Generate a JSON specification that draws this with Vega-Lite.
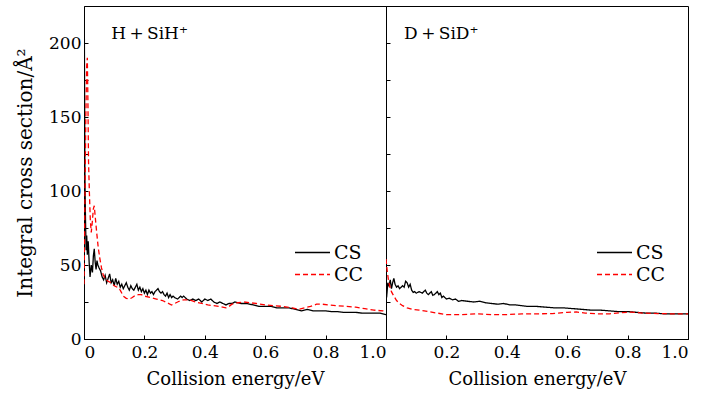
{
  "$schema": "https://vega.github.io/schema/vega-lite/v6.json",
  "padding": {"left": 15, "top": 5, "right": 5, "bottom": 5},
  "background": "white",
  "bounds": "flush",
  "datasets": {
    "curves": [
      {"panel": "H", "type": "CS", "E": 0.001, "s": 217},
      {"panel": "H", "type": "CS", "E": 0.003, "s": 110},
      {"panel": "H", "type": "CS", "E": 0.005, "s": 80},
      {"panel": "H", "type": "CS", "E": 0.007, "s": 60},
      {"panel": "H", "type": "CS", "E": 0.009, "s": 70},
      {"panel": "H", "type": "CS", "E": 0.011, "s": 57},
      {"panel": "H", "type": "CS", "E": 0.014, "s": 66},
      {"panel": "H", "type": "CS", "E": 0.017, "s": 52},
      {"panel": "H", "type": "CS", "E": 0.020, "s": 42},
      {"panel": "H", "type": "CS", "E": 0.024, "s": 50},
      {"panel": "H", "type": "CS", "E": 0.028, "s": 45},
      {"panel": "H", "type": "CS", "E": 0.031, "s": 56},
      {"panel": "H", "type": "CS", "E": 0.034, "s": 61},
      {"panel": "H", "type": "CS", "E": 0.037, "s": 52},
      {"panel": "H", "type": "CS", "E": 0.040, "s": 47},
      {"panel": "H", "type": "CS", "E": 0.043, "s": 53},
      {"panel": "H", "type": "CS", "E": 0.046, "s": 50},
      {"panel": "H", "type": "CS", "E": 0.050, "s": 48},
      {"panel": "H", "type": "CS", "E": 0.055, "s": 46},
      {"panel": "H", "type": "CS", "E": 0.060, "s": 42},
      {"panel": "H", "type": "CS", "E": 0.065, "s": 40},
      {"panel": "H", "type": "CS", "E": 0.070, "s": 43},
      {"panel": "H", "type": "CS", "E": 0.075, "s": 38},
      {"panel": "H", "type": "CS", "E": 0.080, "s": 41},
      {"panel": "H", "type": "CS", "E": 0.085, "s": 44},
      {"panel": "H", "type": "CS", "E": 0.090, "s": 38},
      {"panel": "H", "type": "CS", "E": 0.095, "s": 40},
      {"panel": "H", "type": "CS", "E": 0.100, "s": 36},
      {"panel": "H", "type": "CS", "E": 0.105, "s": 41},
      {"panel": "H", "type": "CS", "E": 0.110, "s": 37},
      {"panel": "H", "type": "CS", "E": 0.115, "s": 39},
      {"panel": "H", "type": "CS", "E": 0.120, "s": 35},
      {"panel": "H", "type": "CS", "E": 0.125, "s": 37},
      {"panel": "H", "type": "CS", "E": 0.130, "s": 34},
      {"panel": "H", "type": "CS", "E": 0.135, "s": 36},
      {"panel": "H", "type": "CS", "E": 0.140, "s": 38},
      {"panel": "H", "type": "CS", "E": 0.145, "s": 35},
      {"panel": "H", "type": "CS", "E": 0.150, "s": 33},
      {"panel": "H", "type": "CS", "E": 0.155, "s": 36},
      {"panel": "H", "type": "CS", "E": 0.160, "s": 34},
      {"panel": "H", "type": "CS", "E": 0.165, "s": 33},
      {"panel": "H", "type": "CS", "E": 0.170, "s": 35},
      {"panel": "H", "type": "CS", "E": 0.175, "s": 37},
      {"panel": "H", "type": "CS", "E": 0.180, "s": 33},
      {"panel": "H", "type": "CS", "E": 0.185, "s": 35},
      {"panel": "H", "type": "CS", "E": 0.190, "s": 32},
      {"panel": "H", "type": "CS", "E": 0.195, "s": 34},
      {"panel": "H", "type": "CS", "E": 0.200, "s": 31},
      {"panel": "H", "type": "CS", "E": 0.205, "s": 33},
      {"panel": "H", "type": "CS", "E": 0.210, "s": 30},
      {"panel": "H", "type": "CS", "E": 0.215, "s": 33},
      {"panel": "H", "type": "CS", "E": 0.220, "s": 31},
      {"panel": "H", "type": "CS", "E": 0.225, "s": 32},
      {"panel": "H", "type": "CS", "E": 0.230, "s": 30},
      {"panel": "H", "type": "CS", "E": 0.235, "s": 32},
      {"panel": "H", "type": "CS", "E": 0.240, "s": 33},
      {"panel": "H", "type": "CS", "E": 0.245, "s": 34},
      {"panel": "H", "type": "CS", "E": 0.250, "s": 32},
      {"panel": "H", "type": "CS", "E": 0.255, "s": 31},
      {"panel": "H", "type": "CS", "E": 0.260, "s": 32},
      {"panel": "H", "type": "CS", "E": 0.265, "s": 30},
      {"panel": "H", "type": "CS", "E": 0.270, "s": 29},
      {"panel": "H", "type": "CS", "E": 0.275, "s": 31},
      {"panel": "H", "type": "CS", "E": 0.280, "s": 28},
      {"panel": "H", "type": "CS", "E": 0.285, "s": 30},
      {"panel": "H", "type": "CS", "E": 0.290, "s": 28},
      {"panel": "H", "type": "CS", "E": 0.295, "s": 29},
      {"panel": "H", "type": "CS", "E": 0.300, "s": 28},
      {"panel": "H", "type": "CS", "E": 0.310, "s": 27},
      {"panel": "H", "type": "CS", "E": 0.320, "s": 29},
      {"panel": "H", "type": "CS", "E": 0.325, "s": 28},
      {"panel": "H", "type": "CS", "E": 0.330, "s": 29},
      {"panel": "H", "type": "CS", "E": 0.340, "s": 27},
      {"panel": "H", "type": "CS", "E": 0.350, "s": 26},
      {"panel": "H", "type": "CS", "E": 0.360, "s": 27},
      {"panel": "H", "type": "CS", "E": 0.370, "s": 26},
      {"panel": "H", "type": "CS", "E": 0.380, "s": 27},
      {"panel": "H", "type": "CS", "E": 0.390, "s": 25},
      {"panel": "H", "type": "CS", "E": 0.400, "s": 27},
      {"panel": "H", "type": "CS", "E": 0.410, "s": 26},
      {"panel": "H", "type": "CS", "E": 0.420, "s": 27},
      {"panel": "H", "type": "CS", "E": 0.430, "s": 25},
      {"panel": "H", "type": "CS", "E": 0.440, "s": 24},
      {"panel": "H", "type": "CS", "E": 0.450, "s": 25},
      {"panel": "H", "type": "CS", "E": 0.460, "s": 24},
      {"panel": "H", "type": "CS", "E": 0.470, "s": 23},
      {"panel": "H", "type": "CS", "E": 0.480, "s": 24},
      {"panel": "H", "type": "CS", "E": 0.490, "s": 24},
      {"panel": "H", "type": "CS", "E": 0.500, "s": 25},
      {"panel": "H", "type": "CS", "E": 0.520, "s": 24},
      {"panel": "H", "type": "CS", "E": 0.540, "s": 24},
      {"panel": "H", "type": "CS", "E": 0.560, "s": 23},
      {"panel": "H", "type": "CS", "E": 0.580, "s": 22},
      {"panel": "H", "type": "CS", "E": 0.600, "s": 22},
      {"panel": "H", "type": "CS", "E": 0.620, "s": 22},
      {"panel": "H", "type": "CS", "E": 0.640, "s": 21},
      {"panel": "H", "type": "CS", "E": 0.660, "s": 21},
      {"panel": "H", "type": "CS", "E": 0.680, "s": 21},
      {"panel": "H", "type": "CS", "E": 0.700, "s": 20},
      {"panel": "H", "type": "CS", "E": 0.720, "s": 19},
      {"panel": "H", "type": "CS", "E": 0.740, "s": 20},
      {"panel": "H", "type": "CS", "E": 0.760, "s": 19},
      {"panel": "H", "type": "CS", "E": 0.780, "s": 19},
      {"panel": "H", "type": "CS", "E": 0.800, "s": 19},
      {"panel": "H", "type": "CS", "E": 0.820, "s": 18.5},
      {"panel": "H", "type": "CS", "E": 0.840, "s": 18.5},
      {"panel": "H", "type": "CS", "E": 0.860, "s": 18},
      {"panel": "H", "type": "CS", "E": 0.880, "s": 18},
      {"panel": "H", "type": "CS", "E": 0.900, "s": 18},
      {"panel": "H", "type": "CS", "E": 0.920, "s": 17.5},
      {"panel": "H", "type": "CS", "E": 0.940, "s": 17.5},
      {"panel": "H", "type": "CS", "E": 0.960, "s": 17.5},
      {"panel": "H", "type": "CS", "E": 0.980, "s": 17.5},
      {"panel": "H", "type": "CS", "E": 1.000, "s": 16.5},

      {"panel": "H", "type": "CC", "E": 0.000, "s": 37},
      {"panel": "H", "type": "CC", "E": 0.003, "s": 90},
      {"panel": "H", "type": "CC", "E": 0.006, "s": 150},
      {"panel": "H", "type": "CC", "E": 0.009, "s": 185},
      {"panel": "H", "type": "CC", "E": 0.011, "s": 190},
      {"panel": "H", "type": "CC", "E": 0.013, "s": 160},
      {"panel": "H", "type": "CC", "E": 0.015, "s": 120},
      {"panel": "H", "type": "CC", "E": 0.018, "s": 98},
      {"panel": "H", "type": "CC", "E": 0.021, "s": 80},
      {"panel": "H", "type": "CC", "E": 0.024, "s": 72},
      {"panel": "H", "type": "CC", "E": 0.027, "s": 78},
      {"panel": "H", "type": "CC", "E": 0.031, "s": 88},
      {"panel": "H", "type": "CC", "E": 0.034, "s": 90},
      {"panel": "H", "type": "CC", "E": 0.037, "s": 83},
      {"panel": "H", "type": "CC", "E": 0.042, "s": 72},
      {"panel": "H", "type": "CC", "E": 0.047, "s": 62},
      {"panel": "H", "type": "CC", "E": 0.052, "s": 55},
      {"panel": "H", "type": "CC", "E": 0.058, "s": 48},
      {"panel": "H", "type": "CC", "E": 0.064, "s": 43},
      {"panel": "H", "type": "CC", "E": 0.072, "s": 40.5},
      {"panel": "H", "type": "CC", "E": 0.080, "s": 39},
      {"panel": "H", "type": "CC", "E": 0.090, "s": 38},
      {"panel": "H", "type": "CC", "E": 0.100, "s": 36},
      {"panel": "H", "type": "CC", "E": 0.110, "s": 35},
      {"panel": "H", "type": "CC", "E": 0.120, "s": 33},
      {"panel": "H", "type": "CC", "E": 0.130, "s": 29},
      {"panel": "H", "type": "CC", "E": 0.140, "s": 27.5},
      {"panel": "H", "type": "CC", "E": 0.150, "s": 27},
      {"panel": "H", "type": "CC", "E": 0.160, "s": 28},
      {"panel": "H", "type": "CC", "E": 0.170, "s": 29.5},
      {"panel": "H", "type": "CC", "E": 0.180, "s": 30},
      {"panel": "H", "type": "CC", "E": 0.190, "s": 30},
      {"panel": "H", "type": "CC", "E": 0.200, "s": 29},
      {"panel": "H", "type": "CC", "E": 0.220, "s": 28},
      {"panel": "H", "type": "CC", "E": 0.240, "s": 27},
      {"panel": "H", "type": "CC", "E": 0.260, "s": 26},
      {"panel": "H", "type": "CC", "E": 0.275, "s": 24.5},
      {"panel": "H", "type": "CC", "E": 0.290, "s": 23},
      {"panel": "H", "type": "CC", "E": 0.300, "s": 24},
      {"panel": "H", "type": "CC", "E": 0.315, "s": 25.5},
      {"panel": "H", "type": "CC", "E": 0.330, "s": 26.5},
      {"panel": "H", "type": "CC", "E": 0.350, "s": 26.5},
      {"panel": "H", "type": "CC", "E": 0.370, "s": 25},
      {"panel": "H", "type": "CC", "E": 0.390, "s": 24},
      {"panel": "H", "type": "CC", "E": 0.410, "s": 23},
      {"panel": "H", "type": "CC", "E": 0.430, "s": 22.5},
      {"panel": "H", "type": "CC", "E": 0.450, "s": 22},
      {"panel": "H", "type": "CC", "E": 0.470, "s": 21},
      {"panel": "H", "type": "CC", "E": 0.480, "s": 22},
      {"panel": "H", "type": "CC", "E": 0.490, "s": 23.5},
      {"panel": "H", "type": "CC", "E": 0.510, "s": 24.5},
      {"panel": "H", "type": "CC", "E": 0.530, "s": 25},
      {"panel": "H", "type": "CC", "E": 0.550, "s": 24.5},
      {"panel": "H", "type": "CC", "E": 0.570, "s": 24},
      {"panel": "H", "type": "CC", "E": 0.600, "s": 23},
      {"panel": "H", "type": "CC", "E": 0.630, "s": 22.5},
      {"panel": "H", "type": "CC", "E": 0.660, "s": 22},
      {"panel": "H", "type": "CC", "E": 0.690, "s": 21},
      {"panel": "H", "type": "CC", "E": 0.710, "s": 20},
      {"panel": "H", "type": "CC", "E": 0.730, "s": 21},
      {"panel": "H", "type": "CC", "E": 0.750, "s": 22},
      {"panel": "H", "type": "CC", "E": 0.770, "s": 23.5},
      {"panel": "H", "type": "CC", "E": 0.790, "s": 23.5},
      {"panel": "H", "type": "CC", "E": 0.810, "s": 23},
      {"panel": "H", "type": "CC", "E": 0.840, "s": 22.5},
      {"panel": "H", "type": "CC", "E": 0.870, "s": 22},
      {"panel": "H", "type": "CC", "E": 0.900, "s": 21.5},
      {"panel": "H", "type": "CC", "E": 0.930, "s": 20.5},
      {"panel": "H", "type": "CC", "E": 0.960, "s": 19.5},
      {"panel": "H", "type": "CC", "E": 0.990, "s": 19},
      {"panel": "H", "type": "CC", "E": 1.000, "s": 18.5},

      {"panel": "D", "type": "CS", "E": 0.002, "s": 28},
      {"panel": "D", "type": "CS", "E": 0.006, "s": 38},
      {"panel": "D", "type": "CS", "E": 0.010, "s": 36},
      {"panel": "D", "type": "CS", "E": 0.014, "s": 40},
      {"panel": "D", "type": "CS", "E": 0.018, "s": 34},
      {"panel": "D", "type": "CS", "E": 0.022, "s": 38},
      {"panel": "D", "type": "CS", "E": 0.026, "s": 41},
      {"panel": "D", "type": "CS", "E": 0.030, "s": 37},
      {"panel": "D", "type": "CS", "E": 0.035, "s": 35},
      {"panel": "D", "type": "CS", "E": 0.040, "s": 36},
      {"panel": "D", "type": "CS", "E": 0.045, "s": 34},
      {"panel": "D", "type": "CS", "E": 0.050, "s": 35},
      {"panel": "D", "type": "CS", "E": 0.055, "s": 36},
      {"panel": "D", "type": "CS", "E": 0.060, "s": 35},
      {"panel": "D", "type": "CS", "E": 0.065, "s": 39},
      {"panel": "D", "type": "CS", "E": 0.070, "s": 38},
      {"panel": "D", "type": "CS", "E": 0.075, "s": 35},
      {"panel": "D", "type": "CS", "E": 0.080, "s": 37},
      {"panel": "D", "type": "CS", "E": 0.085, "s": 33},
      {"panel": "D", "type": "CS", "E": 0.090, "s": 31.5},
      {"panel": "D", "type": "CS", "E": 0.095, "s": 32},
      {"panel": "D", "type": "CS", "E": 0.100, "s": 31},
      {"panel": "D", "type": "CS", "E": 0.110, "s": 32},
      {"panel": "D", "type": "CS", "E": 0.120, "s": 31},
      {"panel": "D", "type": "CS", "E": 0.130, "s": 33},
      {"panel": "D", "type": "CS", "E": 0.135, "s": 31},
      {"panel": "D", "type": "CS", "E": 0.140, "s": 30},
      {"panel": "D", "type": "CS", "E": 0.150, "s": 32},
      {"panel": "D", "type": "CS", "E": 0.155, "s": 29.5},
      {"panel": "D", "type": "CS", "E": 0.160, "s": 30},
      {"panel": "D", "type": "CS", "E": 0.170, "s": 32},
      {"panel": "D", "type": "CS", "E": 0.175, "s": 30},
      {"panel": "D", "type": "CS", "E": 0.180, "s": 31},
      {"panel": "D", "type": "CS", "E": 0.185, "s": 28},
      {"panel": "D", "type": "CS", "E": 0.190, "s": 29},
      {"panel": "D", "type": "CS", "E": 0.200, "s": 27},
      {"panel": "D", "type": "CS", "E": 0.210, "s": 27.5},
      {"panel": "D", "type": "CS", "E": 0.220, "s": 26.5},
      {"panel": "D", "type": "CS", "E": 0.230, "s": 27},
      {"panel": "D", "type": "CS", "E": 0.240, "s": 25.5},
      {"panel": "D", "type": "CS", "E": 0.250, "s": 26},
      {"panel": "D", "type": "CS", "E": 0.270, "s": 25.5},
      {"panel": "D", "type": "CS", "E": 0.290, "s": 25},
      {"panel": "D", "type": "CS", "E": 0.310, "s": 25.5},
      {"panel": "D", "type": "CS", "E": 0.330, "s": 24.5},
      {"panel": "D", "type": "CS", "E": 0.350, "s": 24},
      {"panel": "D", "type": "CS", "E": 0.370, "s": 23.5},
      {"panel": "D", "type": "CS", "E": 0.390, "s": 24},
      {"panel": "D", "type": "CS", "E": 0.410, "s": 23},
      {"panel": "D", "type": "CS", "E": 0.430, "s": 23},
      {"panel": "D", "type": "CS", "E": 0.450, "s": 22.5},
      {"panel": "D", "type": "CS", "E": 0.470, "s": 22},
      {"panel": "D", "type": "CS", "E": 0.500, "s": 22},
      {"panel": "D", "type": "CS", "E": 0.530, "s": 21.5},
      {"panel": "D", "type": "CS", "E": 0.560, "s": 21},
      {"panel": "D", "type": "CS", "E": 0.590, "s": 21},
      {"panel": "D", "type": "CS", "E": 0.620, "s": 20.5},
      {"panel": "D", "type": "CS", "E": 0.650, "s": 20},
      {"panel": "D", "type": "CS", "E": 0.680, "s": 19.5},
      {"panel": "D", "type": "CS", "E": 0.710, "s": 19.5},
      {"panel": "D", "type": "CS", "E": 0.740, "s": 19},
      {"panel": "D", "type": "CS", "E": 0.770, "s": 18.5},
      {"panel": "D", "type": "CS", "E": 0.800, "s": 18.5},
      {"panel": "D", "type": "CS", "E": 0.830, "s": 18},
      {"panel": "D", "type": "CS", "E": 0.860, "s": 17.5},
      {"panel": "D", "type": "CS", "E": 0.890, "s": 17.5},
      {"panel": "D", "type": "CS", "E": 0.920, "s": 17},
      {"panel": "D", "type": "CS", "E": 0.950, "s": 17},
      {"panel": "D", "type": "CS", "E": 1.000, "s": 17},

      {"panel": "D", "type": "CC", "E": 0.000, "s": 54},
      {"panel": "D", "type": "CC", "E": 0.004, "s": 46},
      {"panel": "D", "type": "CC", "E": 0.008, "s": 40},
      {"panel": "D", "type": "CC", "E": 0.012, "s": 36},
      {"panel": "D", "type": "CC", "E": 0.018, "s": 32},
      {"panel": "D", "type": "CC", "E": 0.026, "s": 29},
      {"panel": "D", "type": "CC", "E": 0.035, "s": 26},
      {"panel": "D", "type": "CC", "E": 0.045, "s": 24},
      {"panel": "D", "type": "CC", "E": 0.055, "s": 22.5},
      {"panel": "D", "type": "CC", "E": 0.070, "s": 21},
      {"panel": "D", "type": "CC", "E": 0.087, "s": 20},
      {"panel": "D", "type": "CC", "E": 0.110, "s": 19.5},
      {"panel": "D", "type": "CC", "E": 0.140, "s": 18.5},
      {"panel": "D", "type": "CC", "E": 0.170, "s": 17.5},
      {"panel": "D", "type": "CC", "E": 0.200, "s": 16.5},
      {"panel": "D", "type": "CC", "E": 0.250, "s": 16.5},
      {"panel": "D", "type": "CC", "E": 0.300, "s": 17},
      {"panel": "D", "type": "CC", "E": 0.350, "s": 16.5},
      {"panel": "D", "type": "CC", "E": 0.400, "s": 16.5},
      {"panel": "D", "type": "CC", "E": 0.450, "s": 17},
      {"panel": "D", "type": "CC", "E": 0.500, "s": 17},
      {"panel": "D", "type": "CC", "E": 0.550, "s": 17.2},
      {"panel": "D", "type": "CC", "E": 0.600, "s": 18},
      {"panel": "D", "type": "CC", "E": 0.630, "s": 18.3},
      {"panel": "D", "type": "CC", "E": 0.660, "s": 17.5},
      {"panel": "D", "type": "CC", "E": 0.700, "s": 17},
      {"panel": "D", "type": "CC", "E": 0.740, "s": 17},
      {"panel": "D", "type": "CC", "E": 0.780, "s": 17.8},
      {"panel": "D", "type": "CC", "E": 0.810, "s": 18.2},
      {"panel": "D", "type": "CC", "E": 0.850, "s": 17.5},
      {"panel": "D", "type": "CC", "E": 0.900, "s": 17.2},
      {"panel": "D", "type": "CC", "E": 0.950, "s": 17},
      {"panel": "D", "type": "CC", "E": 1.000, "s": 17}
    ],
    "labels": [
      {"panel": "H", "label": "H\u2009+\u2009SiH\u207A", "E": 0.09, "s": 203},
      {"panel": "D", "label": "D\u2009+\u2009SiD\u207A", "E": 0.06, "s": 203}
    ]
  },
  "spacing": 0,
  "resolve": {"legend": {"color": "independent", "strokeDash": "independent"}},
  "hconcat": [
    {
      "width": 302,
      "height": 333,
      "layer": [
        {
          "data": {"name": "curves"},
          "transform": [{"filter": "datum.panel == 'H'"}],
          "mark": {"type": "line", "strokeWidth": 1.3, "clip": true},
          "encoding": {
            "x": {"field": "E", "type": "quantitative", "scale": {"domain": [0, 1], "nice": false},
              "axis": {"title": "Collision energy/eV", "values": [0,0.1,0.2,0.3,0.4,0.5,0.6,0.7,0.8,0.9,1.0],
                "labelExpr": "datum.value == 0 ? '0' : (round(datum.value*10) % 2 == 0 ? format(datum.value, '.1f') : '')"}},
            "y": {"field": "s", "type": "quantitative", "scale": {"domain": [0, 225], "nice": false},
              "axis": {"title": "Integral cross section/Å²", "values": [0,25,50,75,100,125,150,175,200],
                "labelExpr": "datum.value % 50 == 0 ? datum.label : ''"}},
            "color": {"field": "type", "type": "nominal", "scale": {"domain": ["CS", "CC"], "range": ["#000000", "#ff0000"]},
              "legend": {"title": null, "orient": "none", "legendX": 219, "legendY": 237}},
            "strokeDash": {"field": "type", "type": "nominal", "scale": {"domain": ["CS", "CC"], "range": [[1, 0], [5, 3]]},
              "legend": {"title": null, "orient": "none", "legendX": 219, "legendY": 237}}
          }
        },
        {
          "data": {"name": "labels"},
          "transform": [{"filter": "datum.panel == 'H'"}],
          "mark": {"type": "text", "align": "left", "baseline": "alphabetic", "font": "DejaVu Serif", "fontSize": 17, "color": "black"},
          "encoding": {
            "x": {"field": "E", "type": "quantitative"},
            "y": {"field": "s", "type": "quantitative"},
            "text": {"field": "label"}
          }
        }
      ]
    },
    {
      "width": 302,
      "height": 333,
      "layer": [
        {
          "data": {"name": "curves"},
          "transform": [{"filter": "datum.panel == 'D'"}],
          "mark": {"type": "line", "strokeWidth": 1.3, "clip": true},
          "encoding": {
            "x": {"field": "E", "type": "quantitative", "scale": {"domain": [0, 1], "nice": false},
              "axis": {"title": "Collision energy/eV", "values": [0,0.1,0.2,0.3,0.4,0.5,0.6,0.7,0.8,0.9,1.0],
                "labelExpr": "datum.value == 0 ? '' : (round(datum.value*10) % 2 == 0 ? format(datum.value, '.1f') : '')"}},
            "y": {"field": "s", "type": "quantitative", "scale": {"domain": [0, 225], "nice": false},
              "axis": {"title": null, "values": [0,25,50,75,100,125,150,175,200], "labels": false}},
            "color": {"field": "type", "type": "nominal", "scale": {"domain": ["CS", "CC"], "range": ["#000000", "#ff0000"]},
              "legend": {"title": null, "orient": "none", "legendX": 219, "legendY": 237}},
            "strokeDash": {"field": "type", "type": "nominal", "scale": {"domain": ["CS", "CC"], "range": [[1, 0], [5, 3]]},
              "legend": {"title": null, "orient": "none", "legendX": 219, "legendY": 237}}
          }
        },
        {
          "data": {"name": "labels"},
          "transform": [{"filter": "datum.panel == 'D'"}],
          "mark": {"type": "text", "align": "left", "baseline": "alphabetic", "font": "DejaVu Serif", "fontSize": 17, "color": "black"},
          "encoding": {
            "x": {"field": "E", "type": "quantitative"},
            "y": {"field": "s", "type": "quantitative"},
            "text": {"field": "label"}
          }
        }
      ]
    }
  ],
  "config": {
    "font": "DejaVu Serif",
    "view": {"stroke": "black", "strokeWidth": 1},
    "axis": {
      "grid": false,
      "domainColor": "black",
      "tickColor": "black",
      "tickSize": -4,
      "labelPadding": 7,
      "labelFont": "DejaVu Serif",
      "labelFontSize": 17,
      "labelColor": "black",
      "titleFont": "DejaVu Serif",
      "titleFontSize": 18,
      "titleFontWeight": "normal",
      "titleColor": "black"
    },
    "axisX": {"titlePadding": 10, "labelPadding": 9},
    "axisY": {"titlePadding": 13, "titleFontSize": 20},
    "legend": {
      "padding": 0,
      "symbolType": "M-3.5,0H3.5",
      "symbolSize": 100,
      "symbolStrokeWidth": 1.5,
      "labelFont": "DejaVu Serif",
      "labelFontSize": 19,
      "labelColor": "black",
      "rowPadding": 2,
      "labelOffset": 12
    }
  }
}
